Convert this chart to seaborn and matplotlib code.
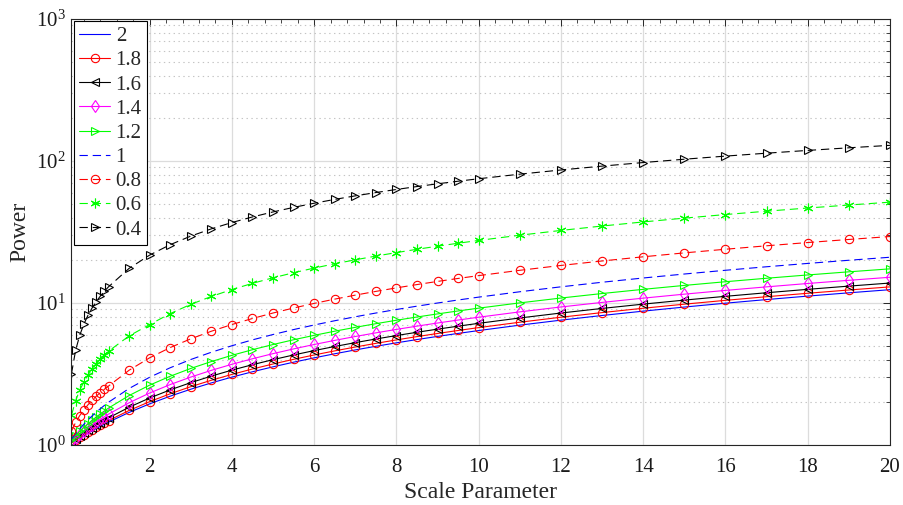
import matplotlib
matplotlib.use("Agg")
import matplotlib.pyplot as plt
import seaborn as sns
import pandas as pd
from matplotlib.ticker import FixedLocator, MultipleLocator, LogLocator, NullFormatter

# ---------------- data ----------------
scale = [0.1, 0.2, 0.3, 0.4, 0.5, 0.6, 0.7, 0.8, 0.9, 1.0,
         1.5, 2, 2.5, 3, 3.5, 4, 4.5, 5, 5.5, 6, 6.5, 7, 7.5, 8, 8.5, 9, 9.5, 10,
         11, 12, 13, 14, 15, 16, 17, 18, 19, 20]

alpha_labels = ["2", "1.8", "1.6", "1.4", "1.2", "1", "0.8", "0.6", "0.4"]

power_a20 = [1.037, 1.079, 1.122, 1.167, 1.212, 1.259, 1.305, 1.353, 1.401, 1.449,
             1.696, 1.949, 2.208, 2.471, 2.737, 3.007, 3.279, 3.553, 3.830, 4.109,
             4.390, 4.673, 4.957, 5.242, 5.529, 5.818, 6.107, 6.398,
             6.983, 7.573, 8.167, 8.763, 9.364, 9.968, 10.575, 11.184, 11.797, 12.412]
power_a18 = [1.041, 1.087, 1.134, 1.182, 1.231, 1.281, 1.332, 1.383, 1.434, 1.486,
             1.750, 2.020, 2.295, 2.575, 2.857, 3.142, 3.430, 3.720, 4.012, 4.306,
             4.601, 4.898, 5.197, 5.497, 5.799, 6.101, 6.405, 6.710,
             7.323, 7.940, 8.560, 9.185, 9.812, 10.442, 11.074, 11.709, 12.348, 12.988]
power_a16 = [1.049, 1.102, 1.156, 1.211, 1.267, 1.323, 1.380, 1.437, 1.494, 1.552,
             1.845, 2.143, 2.445, 2.749, 3.057, 3.367, 3.678, 3.991, 4.306, 4.622,
             4.940, 5.259, 5.579, 5.900, 6.222, 6.545, 6.869, 7.193,
             7.845, 8.501, 9.158, 9.818, 10.481, 11.145, 11.812, 12.481, 13.151, 13.824]
power_a14 = [1.060, 1.124, 1.188, 1.252, 1.317, 1.383, 1.449, 1.515, 1.581, 1.648,
             1.984, 2.323, 2.665, 3.009, 3.355, 3.702, 4.050, 4.400, 4.751, 5.103,
             5.455, 5.809, 6.163, 6.518, 6.873, 7.229, 7.586, 7.943,
             8.660, 9.378, 10.097, 10.820, 11.542, 12.268, 12.993, 13.721, 14.449, 15.180]
power_a12 = [1.082, 1.164, 1.246, 1.328, 1.410, 1.492, 1.574, 1.656, 1.738, 1.820,
             2.230, 2.640, 3.050, 3.460, 3.870, 4.280, 4.690, 5.100, 5.510, 5.920,
             6.330, 6.740, 7.150, 7.560, 7.970, 8.380, 8.790, 9.200,
             10.02, 10.84, 11.66, 12.48, 13.30, 14.12, 14.94, 15.76, 16.58, 17.40]
power_a10 = [1.1, 1.2, 1.3, 1.4, 1.5, 1.6, 1.7, 1.8, 1.9, 2.0,
             2.5, 3.0, 3.5, 4.0, 4.5, 5.0, 5.5, 6.0, 6.5, 7.0,
             7.5, 8.0, 8.5, 9.0, 9.5, 10.0, 10.5, 11.0,
             12.0, 13.0, 14.0, 15.0, 16.0, 17.0, 18.0, 19.0, 20.0, 21.0]
power_a08 = [1.254, 1.441, 1.611, 1.769, 1.919, 2.063, 2.203, 2.338, 2.471, 2.600,
             3.361, 4.113, 4.856, 5.594, 6.326, 7.054, 7.780, 8.502, 9.220, 9.936,
             10.649, 11.361, 12.071, 12.779, 13.485, 14.189, 14.890, 15.592,
             16.991, 18.384, 19.772, 21.155, 22.538, 23.912, 25.287, 26.655, 28.022, 29.387]
power_a06 = [1.621, 2.052, 2.431, 2.781, 3.110, 3.424, 3.725, 4.016, 4.298, 4.573,
             5.863, 7.047, 8.425, 9.782, 11.120, 12.442, 13.752, 15.050, 16.337, 17.616,
             18.886, 20.146, 21.401, 22.648, 23.893, 25.127, 26.357, 27.584,
             30.021, 32.437, 34.841, 37.230, 39.601, 41.965, 44.313, 46.655, 48.978, 51.299]
power_a04 = [3.184, 4.647, 5.922, 7.091, 8.186, 9.224, 10.216, 11.174, 12.100, 13.000,
             17.531, 21.747, 25.750, 29.583, 33.285, 36.878, 40.376, 43.792, 47.139, 50.424,
             53.649, 56.826, 59.954, 63.032, 66.082, 69.084, 72.054, 74.997,
             80.777, 86.458, 92.034, 97.527, 102.94, 108.26, 113.52, 118.72, 123.86, 128.93]

x_ticks = [2, 4, 6, 8, 10, 12, 14, 16, 18, 20]

series = [power_a20, power_a18, power_a16, power_a14, power_a12,
          power_a10, power_a08, power_a06, power_a04]

# ---------------- style ----------------
colors = ["#0000ff", "#ff0000", "#000000", "#ff00ff", "#00ff00",
          "#0000ff", "#ff0000", "#00ff00", "#000000"]
asterisk = (6, 2, 0)
markers = [None, "o", "<", "d", ">", None, "o", asterisk, ">"]
dashed = (0, (6, 3.5))
lstyles = ["-", "-", "-", "-", "-", dashed, dashed, dashed, dashed]

sns.set_style("white")
plt.rcParams["font.family"] = ["Liberation Serif", "DejaVu Serif"]
plt.rcParams["mathtext.fontset"] = "custom"
plt.rcParams["mathtext.rm"] = "Liberation Serif"
plt.rcParams["mathtext.it"] = "Liberation Serif:italic"
plt.rcParams["lines.scale_dashes"] = False

fig = plt.figure(figsize=(9.04, 5.05), dpi=100)
ax = fig.add_axes([71.5 / 904, 1 - 445 / 505, (890 - 71.5) / 904, (445 - 19) / 505])

for lab, vals, c, m, ls in zip(alpha_labels, series, colors, markers, lstyles):
    df = pd.DataFrame({"scale": scale, "power": vals})
    kws = dict(color=c, linestyle=ls, linewidth=0.8, label=lab)
    if m is not None:
        kws.update(marker=m, markersize=6 if m != asterisk else 7,
                   markerfacecolor="none", markeredgecolor=c, markeredgewidth=0.8)
    sns.lineplot(data=df, x="scale", y="power", ax=ax, sort=False,
                 estimator=None, **kws)

ax.set_yscale("log")
ax.set_xlim(0.1, 20)
ax.set_ylim(1, 1000)

ax.xaxis.set_major_locator(FixedLocator(x_ticks))
ax.xaxis.set_minor_locator(MultipleLocator(0.4))
ax.yaxis.set_major_locator(LogLocator(base=10, numticks=10))
ax.yaxis.set_minor_locator(LogLocator(base=10, subs=range(2, 10), numticks=20))
ax.yaxis.set_minor_formatter(NullFormatter())

ax.grid(which="major", color="#dcdcdc", linewidth=0.9, linestyle="-")
ax.grid(which="minor", axis="y", color="#c4c4c4", linewidth=0.8, linestyle=(0, (1, 2.5)))
ax.set_axisbelow(True)

for sp in ax.spines.values():
    sp.set_visible(True)
    sp.set_color("#262626")
    sp.set_linewidth(0.8)

ax.tick_params(which="both", direction="in", top=True, right=True,
               colors="#262626", labelcolor="#1a1a1a")
ax.tick_params(which="major", length=5, width=0.7, labelsize=15)
ax.tick_params(axis="x", which="major", pad=9)
ax.tick_params(axis="y", which="major", pad=4)
ax.tick_params(which="minor", length=3, width=0.6)

ax.set_xlabel("Scale Parameter", fontsize=17, labelpad=4)
ax.set_ylabel("Power", fontsize=17, labelpad=4)

handles = ax.get_lines()
leg = ax.legend(handles, alpha_labels, loc="upper left", fontsize=15,
                frameon=True, fancybox=False, framealpha=1, edgecolor="#000000",
                borderaxespad=0.12, borderpad=0.25, labelspacing=0.22,
                handlelength=1.5, handletextpad=0.25)
leg.get_frame().set_linewidth(0.8)

fig.savefig("out.png", dpi=100)
